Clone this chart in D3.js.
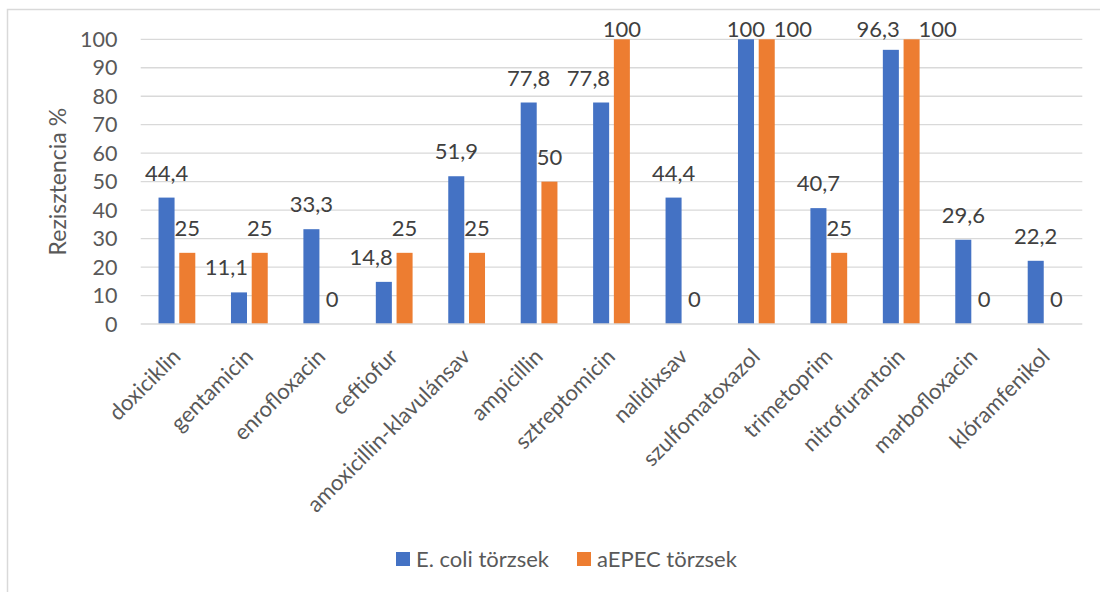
<!DOCTYPE html>
<html>
<head>
<meta charset="utf-8">
<script src="https://cdn.jsdelivr.net/npm/d3@7"></script>
<style>
  html, body { margin: 0; padding: 0; background: #fff; }
  svg { display: block; font-family: Lato, "Open Sans", sans-serif; }
</style>
</head>
<body>
<svg id="chart" width="1100" height="592"></svg>
<script>
// Antibiotic resistance (%) of E. coli and aEPEC strains
const categories = [
  "doxiciklin", "gentamicin", "enrofloxacin", "ceftiofur",
  "amoxicillin-klavulánsav", "ampicillin", "sztreptomicin", "nalidixsav",
  "szulfomatoxazol", "trimetoprim", "nitrofurantoin", "marbofloxacin", "klóramfenikol"
];
const seriesNames = ["E. coli törzsek", "aEPEC törzsek"];
const ecoliValues = [44.4, 11.1, 33.3, 14.8, 51.9, 77.8, 77.8, 44.4, 100, 40.7, 96.3, 29.6, 22.2];
const aepecValues = [25, 25, 0, 25, 25, 50, 100, 0, 100, 25, 100, 0, 0];
const yTicks = [0, 10, 20, 30, 40, 50, 60, 70, 80, 90, 100];
const yTitle = "Rezisztencia %";

const colors = ["#4472C4", "#ED7D31"];
const seriesValues = [ecoliValues, aepecValues];

const svg = d3.select("#chart");

// outer chart frame
svg.append("rect")
  .attr("x", 7.5).attr("y", 9.5)
  .attr("width", 1120).attr("height", 620)
  .attr("fill", "none").attr("stroke", "#D9D9D9").attr("stroke-width", 1.5);

const plot = { left: 140.7, right: 1082.3, top: 39.3, bottom: 324 };

const x0 = d3.scaleBand().domain(categories).range([plot.left, plot.right]).padding(0);
const x1 = d3.scaleBand().domain(d3.range(seriesNames.length))
  .range([0, x0.bandwidth()]).paddingInner(0.227).paddingOuter(0.86);
const y = d3.scaleLinear().domain([0, 100]).range([plot.bottom, plot.top]);

// gridlines
svg.append("g").selectAll("line").data(yTicks.filter(t => t > 0)).join("line")
  .attr("x1", plot.left).attr("x2", plot.right)
  .attr("y1", d => y(d)).attr("y2", d => y(d))
  .attr("stroke", "#D9D9D9").attr("stroke-width", 1.3);

// y tick labels
svg.append("g").selectAll("text").data(yTicks).join("text")
  .attr("x", 117.5).attr("y", d => y(d)).attr("dy", "0.35em")
  .attr("text-anchor", "end")
  .attr("font-size", 21.5).attr("fill", "#595959")
  .text(d => d);

// y axis title
svg.append("text")
  .attr("transform", `translate(66,${(plot.top + plot.bottom) / 2}) rotate(-90)`)
  .attr("text-anchor", "middle")
  .attr("font-size", 23).attr("fill", "#595959")
  .text(yTitle);

// bars
const groups = svg.append("g").selectAll("g").data(categories).join("g")
  .attr("transform", d => `translate(${x0(d)},0)`);

const barData = (c, i) => seriesValues.map((vals, s) => ({ s, v: vals[i], c }));

groups.selectAll("rect").data((c, i) => barData(c, i)).join("rect")
  .attr("x", d => x1(d.s)).attr("width", x1.bandwidth())
  .attr("y", d => y(d.v)).attr("height", d => y(0) - y(d.v))
  .attr("fill", d => colors[d.s]);

// category axis baseline
svg.append("line")
  .attr("x1", plot.left).attr("x2", plot.right)
  .attr("y1", plot.bottom).attr("y2", plot.bottom)
  .attr("stroke", "#D9D9D9").attr("stroke-width", 1.5);

// category labels, rotated 45°
svg.append("g").selectAll("text").data(categories).join("text")
  .attr("transform", d => `translate(${x0(d) + x0.bandwidth() / 2 + 5},358) rotate(-45)`)
  .attr("text-anchor", "end")
  .attr("font-size", 22).attr("fill", "#595959")
  .text(d => d);

// value labels: placed above each bar first, then checked for collisions
const fmt = v => String(v).replace(".", ",");
const labelLayer = svg.append("g");
const labels = [];
const minBaseline = 37;
categories.forEach((c, i) => {
  seriesValues.forEach((vals, s) => {
    const bx = x0(c) + x1(s);
    const t = labelLayer.append("text")
      .attr("x", bx + x1.bandwidth() / 2)
      .attr("y", y(vals[i]) - 17)
      .attr("text-anchor", "middle")
      .attr("font-size", 22).attr("fill", "#404040")
      .text(fmt(vals[i]));
    labels.push({ t, i, s, bx, v: vals[i] });
  });
});

const overlaps = (a, b) => a.x < b.x + b.width && b.x < a.x + a.width && a.y < b.y + b.height && b.y < a.y + a.height;
const bw = x1.bandwidth();

// a blue label that runs into the orange bar next to it is right-aligned to its own bar
categories.forEach((c, i) => {
  const blue = labels.find(l => l.i === i && l.s === 0);
  const orange = labels.find(l => l.i === i && l.s === 1);
  const ob = { x: orange.bx, y: y(orange.v), width: bw, height: y(0) - y(orange.v) };
  const bb = blue.t.node().getBBox();
  const padded = { x: bb.x, y: bb.y, width: bb.width, height: bb.height + 3 };
  if (orange.v > 0 && overlaps(padded, ob)) {
    blue.t.attr("text-anchor", "end").attr("x", blue.bx + bw + 1);
  }
});

// keep labels inside the chart area at the top
labels.forEach(l => l.t.attr("y", Math.max(+l.t.attr("y"), minBaseline)));

// an orange label that runs into the blue label is moved past its bar's right edge
categories.forEach((c, i) => {
  const blue = labels.find(l => l.i === i && l.s === 0);
  const orange = labels.find(l => l.i === i && l.s === 1);
  if (overlaps(orange.t.node().getBBox(), blue.t.node().getBBox())) {
    orange.t.attr("text-anchor", "start").attr("x", orange.bx + bw - 1);
  }
});

// legend
const legend = svg.append("g");
const legendX = [396, 577];
seriesNames.forEach((name, s) => {
  legend.append("rect")
    .attr("x", legendX[s]).attr("y", 552).attr("width", 14).attr("height", 14)
    .attr("fill", colors[s]);
  legend.append("text")
    .attr("x", legendX[s] + 20).attr("y", 566.5)
    .attr("font-size", 22).attr("fill", "#595959")
    .text(name);
});
</script>
</body>
</html>
